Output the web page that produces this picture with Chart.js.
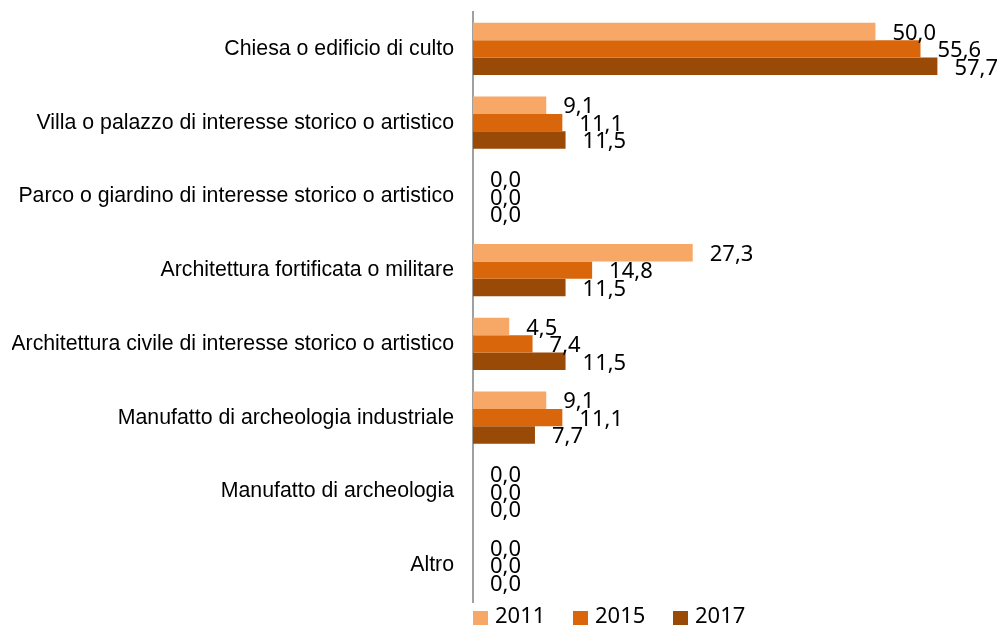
<!DOCTYPE html>
<html lang="it">
  <head>
    <meta charset="UTF-8" />
    <title>Beni per tipologia</title>
    <style>
      html, body { margin: 0; padding: 0; background: #fff; }
      .container { width: 997px; height: 629px; }
    </style>
  </head>
  <body>
    <div class="container">
      <canvas id="myChart" width="997" height="629"></canvas>
    </div>
  </body>
  <script src="https://cdn.jsdelivr.net/npm/chart.js"></script>
  <script>
    const categories = [
      'Chiesa o edificio di culto',
      'Villa o palazzo di interesse storico o artistico',
      'Parco o giardino di interesse storico o artistico',
      'Architettura fortificata o militare',
      'Architettura civile di interesse storico o artistico',
      'Manufatto di archeologia industriale',
      'Manufatto di archeologia',
      'Altro',
    ];
    const years = ['2011', '2015', '2017'];
    const values2011 = [50.0, 9.1, 0.0, 27.3, 4.5, 9.1, 0.0, 0.0];
    const values2015 = [55.6, 11.1, 0.0, 14.8, 7.4, 11.1, 0.0, 0.0];
    const values2017 = [57.7, 11.5, 0.0, 11.5, 11.5, 7.7, 0.0, 0.0];
    const colors = ['#F7A866', '#D9660A', '#994A07'];

    const fmt = (v) => v.toFixed(1).replace('.', ',');

    // value labels at the end of each bar
    const valueLabels = {
      id: 'valueLabels',
      afterDatasetsDraw(chart) {
        const ctx = chart.ctx;
        ctx.save();
        ctx.font = '22px "Noto Sans"';
        ctx.fillStyle = '#000';
        ctx.textAlign = 'left';
        ctx.textBaseline = 'middle';
        chart.data.datasets.forEach((ds, i) => {
          chart.getDatasetMeta(i).data.forEach((bar, j) => {
            ctx.fillText(fmt(ds.data[j]), bar.x + 17, bar.y + 2);
          });
        });
        ctx.restore();
      },
    };

    // legend under the plot, starting at the axis
    const bottomLegend = {
      id: 'bottomLegend',
      afterDraw(chart) {
        const ctx = chart.ctx;
        const left = chart.chartArea.left;
        const y = 618;
        ctx.save();
        ctx.font = '22px "Noto Sans"';
        ctx.textBaseline = 'middle';
        ctx.textAlign = 'left';
        chart.data.datasets.forEach((ds, i) => {
          const x = left + i * 100;
          ctx.fillStyle = ds.backgroundColor;
          ctx.fillRect(x, y - 7, 15, 14);
          ctx.fillStyle = '#000';
          ctx.fillText(ds.label, x + 22, y - 1);
        });
        ctx.restore();
      },
    };

    const data = {
      labels: categories,
      datasets: [
        { label: years[0], data: values2011, backgroundColor: colors[0] },
        { label: years[1], data: values2015, backgroundColor: colors[1] },
        { label: years[2], data: values2017, backgroundColor: colors[2] },
      ],
    };

    new Chart(document.getElementById('myChart'), {
      type: 'bar',
      data: data,
      plugins: [valueLabels, bottomLegend],
      options: {
        indexAxis: 'y',
        responsive: false,
        animation: false,
        layout: { padding: { top: 12, bottom: 27, left: 12, right: 25 } },
        datasets: {
          bar: { categoryPercentage: 0.71, barPercentage: 1.0 },
        },
        plugins: {
          legend: { display: false },
          tooltip: { enabled: false },
        },
        scales: {
          x: { display: false, min: 0, max: 62 },
          y: {
            grid: { display: false, drawTicks: false },
            border: { display: true, color: '#A0A0A0', width: 2 },
            ticks: {
              color: '#000',
              padding: 19,
              font: { family: '"Liberation Sans", Arial, sans-serif', size: 21.3 },
            },
            afterFit(scale) {
              // no vertical label padding, and only one tick gap on the left
              scale.paddingTop = 0;
              scale.paddingBottom = 0;
              scale.width -= scale.options.ticks.padding;
            },
          },
        },
      },
    });
  </script>
</html>
